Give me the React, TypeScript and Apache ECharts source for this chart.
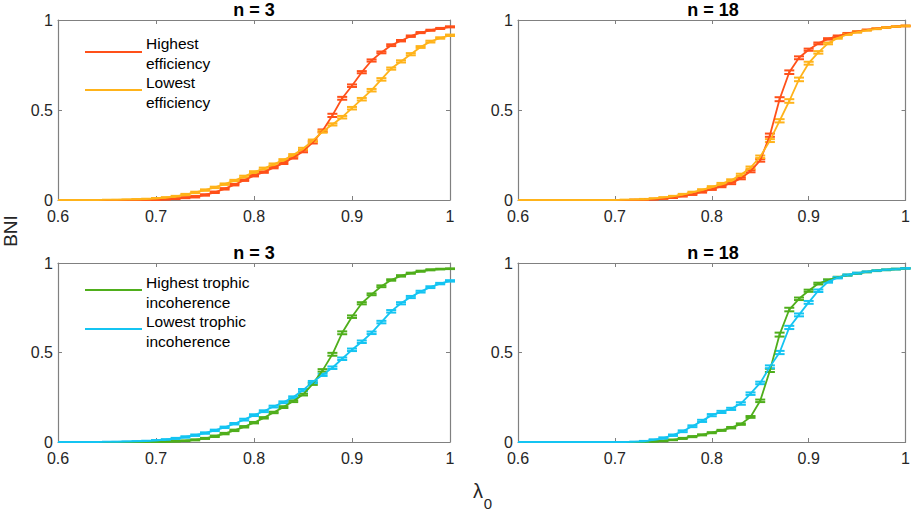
import React, { useEffect, useRef } from "react";
import * as echarts from "echarts";

// lambda_0 grid
const LAMBDA = [
  0.6, 0.61, 0.62, 0.63, 0.64, 0.65, 0.66, 0.67, 0.68, 0.69,
  0.7, 0.71, 0.72, 0.73, 0.74, 0.75, 0.76, 0.77, 0.78, 0.79,
  0.8, 0.81, 0.82, 0.83, 0.84, 0.85, 0.86, 0.87, 0.88, 0.89,
  0.9, 0.91, 0.92, 0.93, 0.94, 0.95, 0.96, 0.97, 0.98, 0.99, 1.0,
];

// n = 3, efficiency
const HI_EFF_3 = [
  0, 0, 0, 0, 0, 0, 0, 0, 0.001, 0.001,
  0.002, 0.004, 0.008, 0.013, 0.018, 0.028, 0.043, 0.062, 0.085, 0.11,
  0.135, 0.155, 0.18, 0.205, 0.235, 0.27, 0.32, 0.385, 0.47, 0.565,
  0.635, 0.71, 0.775, 0.82, 0.86, 0.885, 0.91, 0.93, 0.943, 0.953, 0.962,
];
const HI_EFF_3_ERR = [
  0, 0, 0, 0, 0, 0, 0, 0, 0.001, 0.001,
  0.002, 0.002, 0.003, 0.003, 0.004, 0.004, 0.004, 0.004, 0.004, 0.004,
  0.004, 0.004, 0.004, 0.005, 0.005, 0.005, 0.006, 0.007, 0.009, 0.008,
  0.007, 0.006, 0.006, 0.005, 0.005, 0.004, 0.004, 0.003, 0.003, 0.003, 0.003,
];
const LO_EFF_3 = [
  0, 0, 0, 0, 0, 0.0005, 0.001, 0.002, 0.003, 0.005,
  0.008, 0.013, 0.02, 0.03, 0.042, 0.055, 0.07, 0.088, 0.108, 0.13,
  0.155, 0.175, 0.198, 0.222, 0.25, 0.285, 0.33, 0.38, 0.42, 0.46,
  0.51, 0.56, 0.61, 0.67, 0.73, 0.77, 0.81, 0.85, 0.88, 0.9, 0.915,
];
const LO_EFF_3_ERR = [
  0, 0, 0, 0, 0, 0.001, 0.001, 0.001, 0.002, 0.002,
  0.003, 0.003, 0.003, 0.004, 0.004, 0.004, 0.004, 0.004, 0.004, 0.005,
  0.005, 0.005, 0.005, 0.005, 0.005, 0.005, 0.006, 0.006, 0.006, 0.007,
  0.007, 0.007, 0.007, 0.007, 0.006, 0.006, 0.006, 0.005, 0.005, 0.004, 0.004,
];

// n = 18, efficiency
const HI_EFF_18 = [
  0, 0, 0, 0, 0, 0, 0, 0, 0, 0,
  0, 0, 0.001, 0.002, 0.004, 0.008, 0.014, 0.022, 0.032, 0.045,
  0.06, 0.075, 0.093, 0.12, 0.16, 0.22, 0.36, 0.56, 0.71, 0.79,
  0.835, 0.87, 0.895, 0.91, 0.925, 0.935, 0.945, 0.952, 0.958, 0.963, 0.967,
];
const HI_EFF_18_ERR = [
  0, 0, 0, 0, 0, 0, 0, 0, 0, 0,
  0, 0, 0.001, 0.001, 0.002, 0.002, 0.003, 0.003, 0.004, 0.004,
  0.004, 0.004, 0.005, 0.005, 0.006, 0.007, 0.009, 0.011, 0.01, 0.008,
  0.006, 0.005, 0.004, 0.004, 0.003, 0.003, 0.002, 0.002, 0.002, 0.002, 0.002,
];
const LO_EFF_18 = [
  0, 0, 0, 0, 0, 0, 0, 0, 0, 0,
  0, 0.001, 0.002, 0.004, 0.008, 0.013, 0.02, 0.03, 0.042, 0.056,
  0.072, 0.09, 0.11, 0.14, 0.18, 0.24, 0.33, 0.44, 0.55, 0.67,
  0.76, 0.82, 0.87, 0.9, 0.92, 0.933, 0.943, 0.951, 0.958, 0.963, 0.967,
];
const LO_EFF_18_ERR = [
  0, 0, 0, 0, 0, 0, 0, 0, 0, 0,
  0, 0.001, 0.001, 0.002, 0.002, 0.003, 0.003, 0.004, 0.004, 0.004,
  0.005, 0.005, 0.005, 0.006, 0.006, 0.007, 0.008, 0.009, 0.01, 0.01,
  0.008, 0.007, 0.005, 0.004, 0.003, 0.003, 0.002, 0.002, 0.002, 0.002, 0.002,
];

// n = 3, trophic incoherence
const HI_TRO_3 = [
  0, 0, 0, 0, 0, 0, 0, 0, 0, 0,
  0.001, 0.002, 0.004, 0.007, 0.012, 0.02, 0.032, 0.047, 0.065, 0.085,
  0.108, 0.135, 0.165, 0.195, 0.228, 0.265, 0.325, 0.4, 0.49, 0.61,
  0.7, 0.775, 0.825, 0.87, 0.905, 0.928, 0.943, 0.954, 0.962, 0.966, 0.968,
];
const HI_TRO_3_ERR = [
  0, 0, 0, 0, 0, 0, 0, 0, 0, 0,
  0.001, 0.001, 0.002, 0.002, 0.003, 0.003, 0.004, 0.004, 0.004, 0.004,
  0.004, 0.004, 0.004, 0.005, 0.005, 0.005, 0.006, 0.007, 0.008, 0.008,
  0.007, 0.006, 0.005, 0.005, 0.004, 0.004, 0.003, 0.003, 0.003, 0.002, 0.002,
];
const LO_TRO_3 = [
  0, 0, 0, 0, 0, 0.0005, 0.001, 0.002, 0.003, 0.005,
  0.008, 0.013, 0.02, 0.028, 0.038, 0.05, 0.065, 0.082, 0.102, 0.125,
  0.15, 0.172, 0.198, 0.222, 0.25, 0.29, 0.335, 0.375, 0.415, 0.465,
  0.515, 0.56, 0.61, 0.67, 0.73, 0.775, 0.81, 0.84, 0.865, 0.885, 0.9,
];
const LO_TRO_3_ERR = [
  0, 0, 0, 0, 0, 0.001, 0.001, 0.001, 0.002, 0.002,
  0.003, 0.003, 0.003, 0.004, 0.004, 0.004, 0.004, 0.004, 0.004, 0.005,
  0.005, 0.005, 0.005, 0.005, 0.005, 0.006, 0.006, 0.006, 0.007, 0.007,
  0.007, 0.007, 0.007, 0.007, 0.007, 0.006, 0.006, 0.005, 0.005, 0.004, 0.004,
];

// n = 18, trophic incoherence
const HI_TRO_18 = [
  0, 0, 0, 0, 0, 0, 0, 0, 0, 0,
  0, 0, 0, 0.001, 0.003, 0.006, 0.012, 0.02, 0.03, 0.04,
  0.052, 0.065, 0.08, 0.1, 0.14, 0.23, 0.4, 0.6, 0.74, 0.8,
  0.845, 0.885, 0.905, 0.92, 0.932, 0.942, 0.95, 0.957, 0.962, 0.966, 0.97,
];
const HI_TRO_18_ERR = [
  0, 0, 0, 0, 0, 0, 0, 0, 0, 0,
  0, 0, 0, 0.001, 0.001, 0.002, 0.002, 0.003, 0.003, 0.003,
  0.003, 0.003, 0.004, 0.004, 0.005, 0.007, 0.009, 0.011, 0.01, 0.007,
  0.006, 0.005, 0.004, 0.003, 0.003, 0.003, 0.002, 0.002, 0.002, 0.002, 0.002,
];
const LO_TRO_18 = [
  0, 0, 0, 0, 0, 0, 0, 0, 0, 0,
  0, 0, 0.001, 0.004, 0.012, 0.022, 0.038, 0.06, 0.088, 0.118,
  0.15, 0.168, 0.185, 0.215, 0.27, 0.33, 0.42, 0.5, 0.64, 0.71,
  0.78, 0.845, 0.895, 0.918, 0.933, 0.943, 0.951, 0.957, 0.962, 0.966, 0.97,
];
const LO_TRO_18_ERR = [
  0, 0, 0, 0, 0, 0, 0, 0, 0, 0,
  0, 0, 0.001, 0.002, 0.003, 0.004, 0.004, 0.005, 0.005, 0.006,
  0.006, 0.006, 0.006, 0.007, 0.007, 0.007, 0.008, 0.009, 0.009, 0.008,
  0.008, 0.007, 0.005, 0.004, 0.003, 0.003, 0.002, 0.002, 0.002, 0.002, 0.002,
];

const X_TICKS = [0.6, 0.7, 0.8, 0.9, 1];
const Y_TICKS = [0, 0.5, 1];
const TITLES = ["n = 3", "n = 18", "n = 3", "n = 18"];
const LEGEND_EFF = ["Highest\nefficiency", "Lowest\nefficiency"];
const LEGEND_TRO = ["Highest trophic\nincoherence", "Lowest trophic\nincoherence"];

const FONT = "'Liberation Sans', Arial, Helvetica, sans-serif";
const AXIS_GRAY = "#808080";
const TEXT = "#262626";
const RED = "#FF5019";
const ORANGE = "#FFB31A";
const GREEN = "#4FAE1B";
const CYAN = "#14C4F2";

type Line = { name: string; color: string; values: number[]; errors: number[] };
type Panel = { left: number; top: number; width: number; height: number; lines: Line[] };

const PANELS: Panel[] = [
  {
    left: 58, top: 20, width: 392, height: 180,
    lines: [
      { name: "Highest efficiency", color: RED, values: HI_EFF_3, errors: HI_EFF_3_ERR },
      { name: "Lowest efficiency", color: ORANGE, values: LO_EFF_3, errors: LO_EFF_3_ERR },
    ],
  },
  {
    left: 518, top: 20, width: 390, height: 180,
    lines: [
      { name: "Highest efficiency", color: RED, values: HI_EFF_18, errors: HI_EFF_18_ERR },
      { name: "Lowest efficiency", color: ORANGE, values: LO_EFF_18, errors: LO_EFF_18_ERR },
    ],
  },
  {
    left: 58, top: 263, width: 392, height: 179,
    lines: [
      { name: "Highest trophic incoherence", color: GREEN, values: HI_TRO_3, errors: HI_TRO_3_ERR },
      { name: "Lowest trophic incoherence", color: CYAN, values: LO_TRO_3, errors: LO_TRO_3_ERR },
    ],
  },
  {
    left: 518, top: 263, width: 390, height: 179,
    lines: [
      { name: "Highest trophic incoherence", color: GREEN, values: HI_TRO_18, errors: HI_TRO_18_ERR },
      { name: "Lowest trophic incoherence", color: CYAN, values: LO_TRO_18, errors: LO_TRO_18_ERR },
    ],
  },
];

const fmt = (v: number) => String(Math.round(v * 10) / 10);

function buildOption() {
  const grid: any[] = [];
  const xAxis: any[] = [];
  const yAxis: any[] = [];
  const series: any[] = [];
  const graphic: any[] = [];

  PANELS.forEach((p, i) => {
    grid.push({ left: p.left, top: p.top, width: p.width, height: p.height, containLabel: false });
    const common = {
      type: "value",
      gridIndex: i,
      axisLine: { show: true, onZero: false, lineStyle: { color: AXIS_GRAY, width: 1.2 } },
      axisTick: { show: true, inside: true, length: 4, lineStyle: { color: AXIS_GRAY } },
      splitLine: { show: false },
    };
    xAxis.push({
      ...common,
      position: "bottom",
      min: X_TICKS[0],
      max: X_TICKS[X_TICKS.length - 1],
      interval: 0.1,
      axisLabel: { show: true, margin: 8, color: TEXT, fontSize: 16, fontFamily: FONT, formatter: fmt },
    });
    xAxis.push({
      ...common,
      position: "top",
      min: X_TICKS[0],
      max: X_TICKS[X_TICKS.length - 1],
      interval: 0.1,
      axisLabel: { show: false },
    });
    yAxis.push({
      ...common,
      position: "left",
      min: Y_TICKS[0],
      max: Y_TICKS[Y_TICKS.length - 1],
      interval: 0.5,
      axisLabel: { show: true, margin: 5, color: TEXT, fontSize: 16, fontFamily: FONT, formatter: fmt },
    });
    yAxis.push({
      ...common,
      position: "right",
      min: Y_TICKS[0],
      max: Y_TICKS[Y_TICKS.length - 1],
      interval: 0.5,
      axisLabel: { show: false },
    });

    p.lines.forEach((ln) => {
      const data = LAMBDA.map((x, k) => [x, ln.values[k], ln.errors[k]]);
      series.push({
        type: "line",
        name: ln.name,
        xAxisIndex: 2 * i,
        yAxisIndex: 2 * i,
        data: data.map((d) => [d[0], d[1]]),
        showSymbol: false,
        symbol: "none",
        lineStyle: { color: ln.color, width: 1.8 },
        z: 3,
      });
      series.push({
        type: "custom",
        name: ln.name + " error",
        xAxisIndex: 2 * i,
        yAxisIndex: 2 * i,
        data,
        z: 3,
        renderItem: (params: any, api: any) => {
          const x = api.value(0);
          const y = api.value(1);
          const e = api.value(2);
          if (!(e > 0)) return null;
          const top = api.coord([x, Math.min(1, y + e)]);
          const bot = api.coord([x, Math.max(0, y - e)]);
          const hw = 5;
          const st = { stroke: ln.color, lineWidth: 2 };
          return {
            type: "group",
            children: [
              { type: "line", shape: { x1: top[0], y1: top[1], x2: bot[0], y2: bot[1] }, style: st },
              { type: "line", shape: { x1: top[0] - hw, y1: top[1], x2: top[0] + hw, y2: top[1] }, style: st },
              { type: "line", shape: { x1: bot[0] - hw, y1: bot[1], x2: bot[0] + hw, y2: bot[1] }, style: st },
            ],
          };
        },
      });
    });

    graphic.push({
      type: "text",
      x: p.left + p.width / 2,
      y: p.top - 10,
      style: {
        text: TITLES[i],
        textAlign: "center",
        textVerticalAlign: "middle",
        font: `bold 18px ${FONT}`,
        fill: "#000",
      },
    });
  });

  // legends in the left panels
  const legendDefs = [
    { panel: 0, labels: LEGEND_EFF, lineYs: [52, 90], textYs: [53, 92] },
    { panel: 2, labels: LEGEND_TRO, lineYs: [290, 329], textYs: [292, 331] },
  ];
  legendDefs.forEach((lg) => {
    const p = PANELS[lg.panel];
    p.lines.forEach((ln, k) => {
      graphic.push({
        type: "line",
        shape: { x1: 85, y1: lg.lineYs[k], x2: 142, y2: lg.lineYs[k] },
        style: { stroke: ln.color, lineWidth: 1.8 },
      });
      graphic.push({
        type: "text",
        x: 146,
        y: lg.textYs[k],
        style: {
          text: lg.labels[k],
          textAlign: "left",
          textVerticalAlign: "middle",
          font: `15.5px ${FONT}`,
          lineHeight: 20,
          fill: "#000",
        },
      });
    });
  });

  // axis titles
  graphic.push({
    type: "text",
    x: 10.5,
    y: 231,
    rotation: Math.PI / 2,
    style: {
      text: "BNI",
      textAlign: "center",
      textVerticalAlign: "middle",
      font: `19px ${FONT}`,
      fill: TEXT,
    },
  });
  graphic.push({
    type: "text",
    x: 478,
    y: 491,
    style: {
      text: "λ",
      textAlign: "center",
      textVerticalAlign: "middle",
      font: `20px ${FONT}`,
      fill: TEXT,
    },
  });
  graphic.push({
    type: "text",
    x: 488,
    y: 503,
    style: {
      text: "0",
      textAlign: "center",
      textVerticalAlign: "middle",
      font: `15px ${FONT}`,
      fill: TEXT,
    },
  });

  return {
    animation: false,
    backgroundColor: "#ffffff",
    grid,
    xAxis,
    yAxis,
    series,
    graphic,
  };
}

export default function App() {
  const ref = useRef<HTMLDivElement>(null);
  useEffect(() => {
    if (!ref.current) return;
    const chart = echarts.init(ref.current, undefined, { renderer: "svg" });
    chart.setOption(buildOption() as any);
    return () => chart.dispose();
  }, []);
  return (
    <div
      ref={ref}
      style={{ position: "fixed", left: 0, top: 0, width: 913, height: 513, background: "#fff" }}
    />
  );
}
